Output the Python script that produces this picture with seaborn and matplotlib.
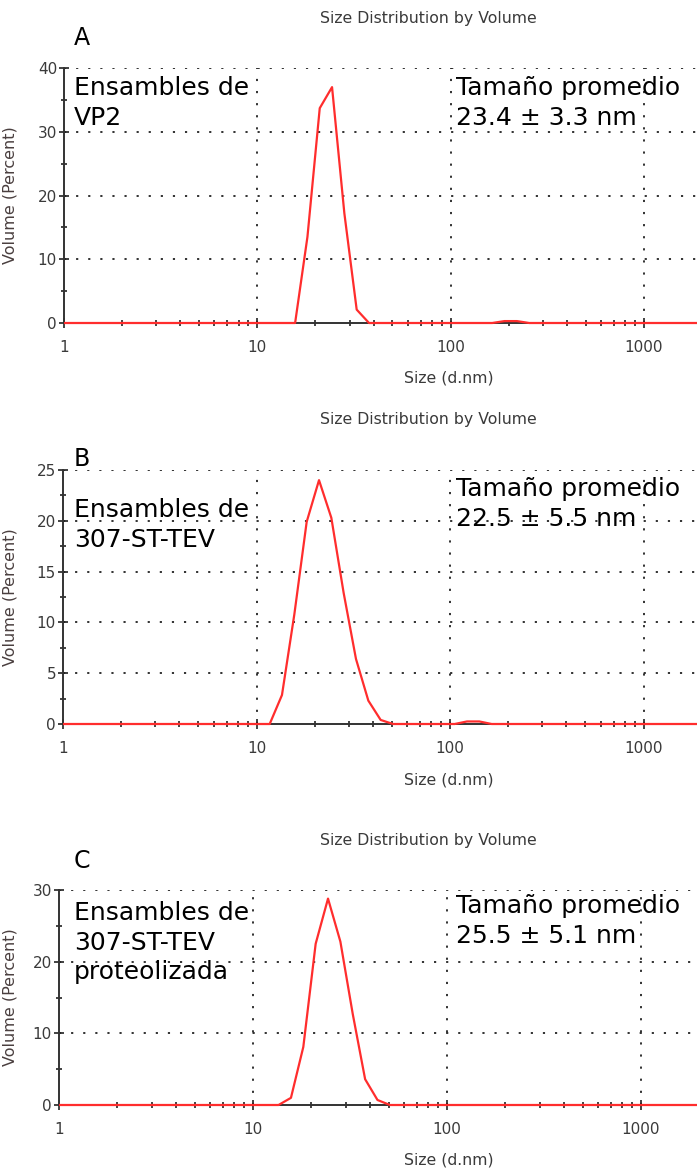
import numpy as np
import pandas as pd
import matplotlib
matplotlib.use("Agg")
import matplotlib.pyplot as plt
from matplotlib.patches import Rectangle
from matplotlib.ticker import FixedLocator, NullFormatter, FixedFormatter
from matplotlib.transforms import blended_transform_factory
import seaborn as sns

# Zetasizer size classes (d.nm)
size_bins = [0.4000, 0.4632, 0.5365, 0.6213, 0.7195, 0.8332, 0.9649, 1.117, 1.294, 1.499,
             1.736, 2.010, 2.328, 2.696, 3.122, 3.615, 4.187, 4.849, 5.615, 6.503,
             7.531, 8.721, 10.10, 11.70, 13.54, 15.69, 18.17, 21.04, 24.36, 28.21,
             32.67, 37.84, 43.82, 50.75, 58.77, 68.06, 78.82, 91.28, 105.7, 122.4,
             141.8, 164.2, 190.1, 220.2, 255.0, 295.3, 342.0, 396.1, 458.7, 531.2,
             615.1, 712.4, 825.0, 955.4, 1106, 1281, 1484, 1718, 1990, 2305,
             2669, 3091, 3580, 4145, 4801, 5560, 6439, 7456, 8635, 10000]

# Volume (%) per size class
vol_vp2 = [0, 0, 0, 0, 0, 0, 0, 0, 0, 0,
           0, 0, 0, 0, 0, 0, 0, 0, 0, 0,
           0, 0, 0, 0, 0, 0, 13.5, 33.7, 37.0, 17.2,
           2.1, 0, 0, 0, 0, 0, 0, 0, 0, 0,
           0, 0, 0.3, 0.3, 0, 0, 0, 0, 0, 0,
           0, 0, 0, 0, 0, 0, 0, 0, 0, 0,
           0, 0, 0, 0, 0, 0, 0, 0, 0, 0]
vol_307 = [0, 0, 0, 0, 0, 0, 0, 0, 0, 0,
           0, 0, 0, 0, 0, 0, 0, 0, 0, 0,
           0, 0, 0, 0, 2.85, 10.8, 19.9, 24.0, 20.3, 12.9,
           6.4, 2.3, 0.4, 0, 0, 0, 0, 0, 0, 0.25,
           0.25, 0, 0, 0, 0, 0, 0, 0, 0, 0,
           0, 0, 0, 0, 0, 0, 0, 0, 0, 0,
           0, 0, 0, 0, 0, 0, 0, 0, 0, 0]
vol_307_prot = [0, 0, 0, 0, 0, 0, 0, 0, 0, 0,
                0, 0, 0, 0, 0, 0, 0, 0, 0, 0,
                0, 0, 0, 0, 0, 1.0, 8.1, 22.5, 28.8, 22.8,
                12.7, 3.6, 0.7, 0, 0, 0, 0, 0, 0, 0,
                0, 0, 0, 0, 0, 0, 0, 0, 0, 0,
                0, 0, 0, 0, 0, 0, 0, 0, 0, 0,
                0, 0, 0, 0, 0, 0, 0, 0, 0, 0]

panel_letters = ["A", "B", "C"]
sample_labels = ["Ensambles de\nVP2", "Ensambles de\n307-ST-TEV", "Ensambles de\n307-ST-TEV\nproteolizada"]
mean_labels = ["Tamaño promedio\n23.4 ± 3.3 nm", "Tamaño promedio\n22.5 ± 5.5 nm", "Tamaño promedio\n25.5 ± 5.1 nm"]
y_max = [40, 25, 30]
y_major = [[0, 10, 20, 30, 40], [0, 5, 10, 15, 20, 25], [0, 10, 20, 30]]
y_minor = [[5, 15, 25, 35], [2.5, 7.5, 12.5, 17.5, 22.5], [5, 15, 25]]
x_major = [1, 10, 100, 1000]
x_major_labels = ["1", "10", "100", "1000"]

sns.set_theme(style="white")
plt.rcParams["font.family"] = ["DejaVu Sans"]

W, H = 697, 1169
fig = plt.figure(figsize=(W / 100, H / 100), dpi=100)

# pixel layout: (left, top, bottom, px per decade)
layout = [(64, 68, 323, 193.3), (63, 470, 724, 193.5), (59, 890, 1105, 194.0)]
title_y = [18, 419, 840]
letter_top = [26, 447, 849]
sample_top = [76, 498, 901]
mean_top = [76, 477, 894]
xlabel_y = [378, 780, 1160]

grey = "#3a3a3a"
vols = [vol_vp2, vol_307, vol_307_prot]

for i in range(3):
    left, top, bottom, dec = layout[i]
    ax = fig.add_axes([left / W, 1 - bottom / H, (W - left) / W, (bottom - top) / H])
    xmax = 10 ** ((W - left) / dec)
    df = pd.DataFrame({"size": size_bins, "volume": vols[i]})
    sns.lineplot(data=df, x="size", y="volume", ax=ax, color="#ff2d2d", lw=1.6,
                 estimator=None, sort=False, zorder=4)
    ax.set_xscale("log")
    ax.set_xlim(1, xmax)
    ax.set_ylim(0, y_max[i])
    line = ax.lines[0]
    clip = Rectangle((0, -0.05), 1, 1.1, transform=ax.transAxes, facecolor="none", edgecolor="none")
    ax.add_patch(clip)
    line.set_clip_path(clip)

    for s in ["top", "right"]:
        ax.spines[s].set_visible(False)
    for s in ["left", "bottom"]:
        ax.spines[s].set_color("#333333")
        ax.spines[s].set_linewidth(1.4)

    ax.xaxis.set_major_locator(FixedLocator(x_major))
    ax.xaxis.set_major_formatter(FixedFormatter(x_major_labels))
    minors = [m * 10 ** d for d in range(0, 4) for m in range(2, 10)]
    ax.xaxis.set_minor_locator(FixedLocator([m for m in minors if m < xmax]))
    ax.xaxis.set_minor_formatter(NullFormatter())
    ax.yaxis.set_major_locator(FixedLocator(y_major[i]))
    ax.yaxis.set_minor_locator(FixedLocator(y_minor[i]))

    ax.tick_params(axis="both", which="both", bottom=True, left=True, top=False, right=False)
    ax.tick_params(axis="both", which="major", direction="inout", length=7, width=1.2,
                   color="#222222", labelsize=11, labelcolor=grey)
    ax.tick_params(axis="both", which="minor", direction="inout", length=5, width=1.2,
                   color="#222222")
    ax.tick_params(axis="x", which="major", pad=9)
    ax.tick_params(axis="y", which="major", pad=1.5)

    # dotted grid at major positions
    for yv in y_major[i][1:]:
        ax.axhline(yv, color="#222222", lw=1.3, ls=(0, (1.2, 5.5)), zorder=1)
    for xv in x_major[1:]:
        ax.axvline(xv, color="#222222", lw=1.3, ls=(0, (1.2, 5.5)), zorder=1)

    ax.set_xlabel("")
    ax.set_ylabel("Volume (Percent)", fontsize=11.5, color="#4a3f3f")
    ax.yaxis.set_label_coords(18 / W, 0.5,
                              transform=blended_transform_factory(fig.transFigure, ax.transAxes))

    fig.text(428 / W, 1 - title_y[i] / H, "Size Distribution by Volume", ha="center", va="center",
             fontsize=11.3, color=grey)
    fig.text(449 / W, 1 - xlabel_y[i] / H, "Size (d.nm)", ha="center", va="center",
             fontsize=11.3, color=grey)
    fig.text(74 / W, 1 - letter_top[i] / H, panel_letters[i], ha="left", va="top",
             fontsize=17, color="black")
    fig.text(74 / W, 1 - sample_top[i] / H, sample_labels[i], ha="left", va="top",
             fontsize=18, color="black", linespacing=1.3)
    fig.text(456 / W, 1 - mean_top[i] / H, mean_labels[i], ha="left", va="top",
             fontsize=18, color="black", linespacing=1.3)

fig.savefig("out.png", dpi=100)
